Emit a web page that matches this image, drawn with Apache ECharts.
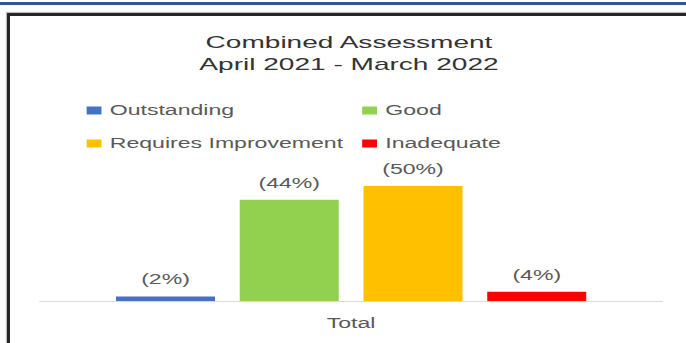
<!DOCTYPE html>
<html>
<head>
<meta charset="utf-8">
<title>Combined Assessment</title>
<script src="https://cdn.jsdelivr.net/npm/echarts@6/dist/echarts.min.js"></script>
<style>
  html, body { margin: 0; padding: 0; background: #ffffff; }
  body { width: 686px; height: 343px; position: relative; overflow: hidden; }
  .top-rule { position: absolute; left: 0; top: 2px; width: 686px; height: 3px; background: #2f5597; }
  .frame {
    position: absolute; left: 7px; top: 13px; width: 720px; height: 400px;
    border-left: 3px solid #262626; border-top: 3px solid #262626;
    box-shadow: -1px -1px 1px rgba(0,0,0,0.25);
  }
  /* the chart is laid out narrow and widened horizontally */
  #chart {
    position: absolute; left: 0; top: 0;
    width: 415.76px; height: 343px;
    transform: scaleX(1.65); transform-origin: 0 0;
  }
</style>
</head>
<body>
<div class="top-rule"></div>
<div class="frame"></div>
<div id="chart"></div>
<script>
// Assessment outcomes, April 2021 - March 2022 (percent of total)
const categories = ['Total'];
const seriesNames = ['Outstanding', 'Good', 'Requires Improvement', 'Inadequate'];
const outstanding = [2];
const good = [44];
const requiresImprovement = [50];
const inadequate = [4];
const seriesColors = ['#4472c4', '#92d050', '#ffc000', '#ff0000'];

const values = [outstanding, good, requiresImprovement, inadequate];
const FONT = 'Liberation Sans, Arial, sans-serif';

const chart = echarts.init(document.getElementById('chart'), null, { renderer: 'svg' });

chart.setOption({
  animation: false,
  textStyle: { fontFamily: FONT },
  title: {
    text: 'Combined Assessment\nApril 2021 - March 2022',
    left: 211.5,
    top: 31,
    padding: 0,
    textAlign: 'center',
    textStyle: { fontFamily: FONT, fontSize: 17, lineHeight: 22, fontWeight: 'normal', color: '#333333' }
  },
  legend: {
    data: seriesNames,
    left: 52.5,
    top: 96.5,
    width: 335,
    padding: 0,
    itemGap: 5,
    itemWidth: 9,
    itemHeight: 8,
    icon: 'rect',
    selectedMode: false,
    textStyle: { fontFamily: FONT, fontSize: 14, lineHeight: 28, width: 148, color: '#595959' }
  },
  grid: { left: 24.2, right: 14.6, top: 163, bottom: 42, containLabel: false },
  xAxis: {
    type: 'category',
    data: categories,
    axisLine: { show: true, lineStyle: { color: '#d9d9d9', width: 1 } },
    axisTick: { show: false },
    axisLabel: { fontFamily: FONT, fontSize: 14, color: '#595959', margin: 15 }
  },
  yAxis: {
    type: 'value',
    min: 0,
    max: 60,
    show: false,
    splitLine: { show: false }
  },
  series: seriesNames.map((name, i) => ({
    name: name,
    type: 'bar',
    data: values[i],
    barWidth: 60,
    barGap: '25%',
    itemStyle: { color: seriesColors[i] },
    label: {
      show: true,
      position: 'top',
      distance: 10,
      formatter: '({c}%)',
      fontFamily: FONT,
      fontSize: 14,
      color: '#595959'
    }
  }))
});
</script>
</body>
</html>
